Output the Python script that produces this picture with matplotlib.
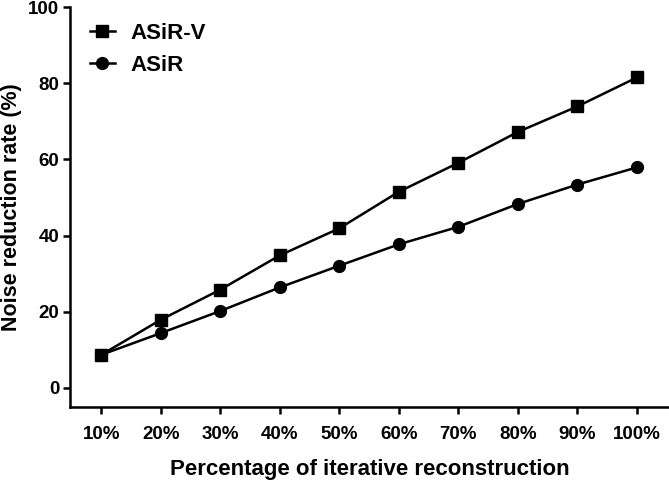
import numpy as np
import matplotlib
matplotlib.use('Agg')
import matplotlib.pyplot as plt

plt.rcParams['font.family'] = ['Liberation Sans', 'DejaVu Sans']
plt.rcParams['font.weight'] = 'bold'

# datos
categorias = ['10%', '20%', '30%', '40%', '50%', '60%', '70%', '80%', '90%', '100%']
asir_v = [8.7, 17.9, 25.8, 34.8, 41.9, 51.5, 59.1, 67.2, 73.9, 81.5]
asir = [8.7, 14.4, 20.2, 26.4, 32.1, 37.7, 42.3, 48.3, 53.4, 57.9]

fig = plt.figure(figsize=(6.69, 4.84), dpi=100)
ax = fig.add_axes([0.105, 0.159, 0.895, 0.8265])

x = np.arange(len(categorias))
ax.plot(x, asir_v, color='black', lw=1.8, marker='s', ms=8.5, label='ASiR-V')
ax.plot(x, asir, color='black', lw=1.8, marker='o', ms=8.5, label='ASiR')

ax.set_xlim(-0.52, 9.54)
ax.set_ylim(-5, 100)
ax.set_xticks(x)
ax.set_xticklabels(categorias)
ax.set_yticks([0, 20, 40, 60, 80, 100])

for s in ['top', 'right']:
    ax.spines[s].set_visible(False)
for s in ['left', 'bottom']:
    ax.spines[s].set_linewidth(1.8)

ax.tick_params(axis='both', direction='out', length=5, width=1.8, labelsize=13.5, pad=3)
ax.tick_params(axis='x', pad=9)
for t in ax.get_xticklabels() + ax.get_yticklabels():
    t.set_fontweight('bold')

ax.set_xlabel('Percentage of iterative reconstruction', fontsize=16, fontweight='bold', labelpad=11)
ax.set_ylabel('Noise reduction rate (%)', fontsize=15.5, fontweight='bold', labelpad=4)

leg = ax.legend(loc='upper left', frameon=False, fontsize=16, handlelength=1.1,
                handletextpad=0.7, labelspacing=0.5, bbox_to_anchor=(0.0, 1.01))
for t in leg.get_texts():
    t.set_fontweight('bold')

fig.savefig('out.png', dpi=100)
